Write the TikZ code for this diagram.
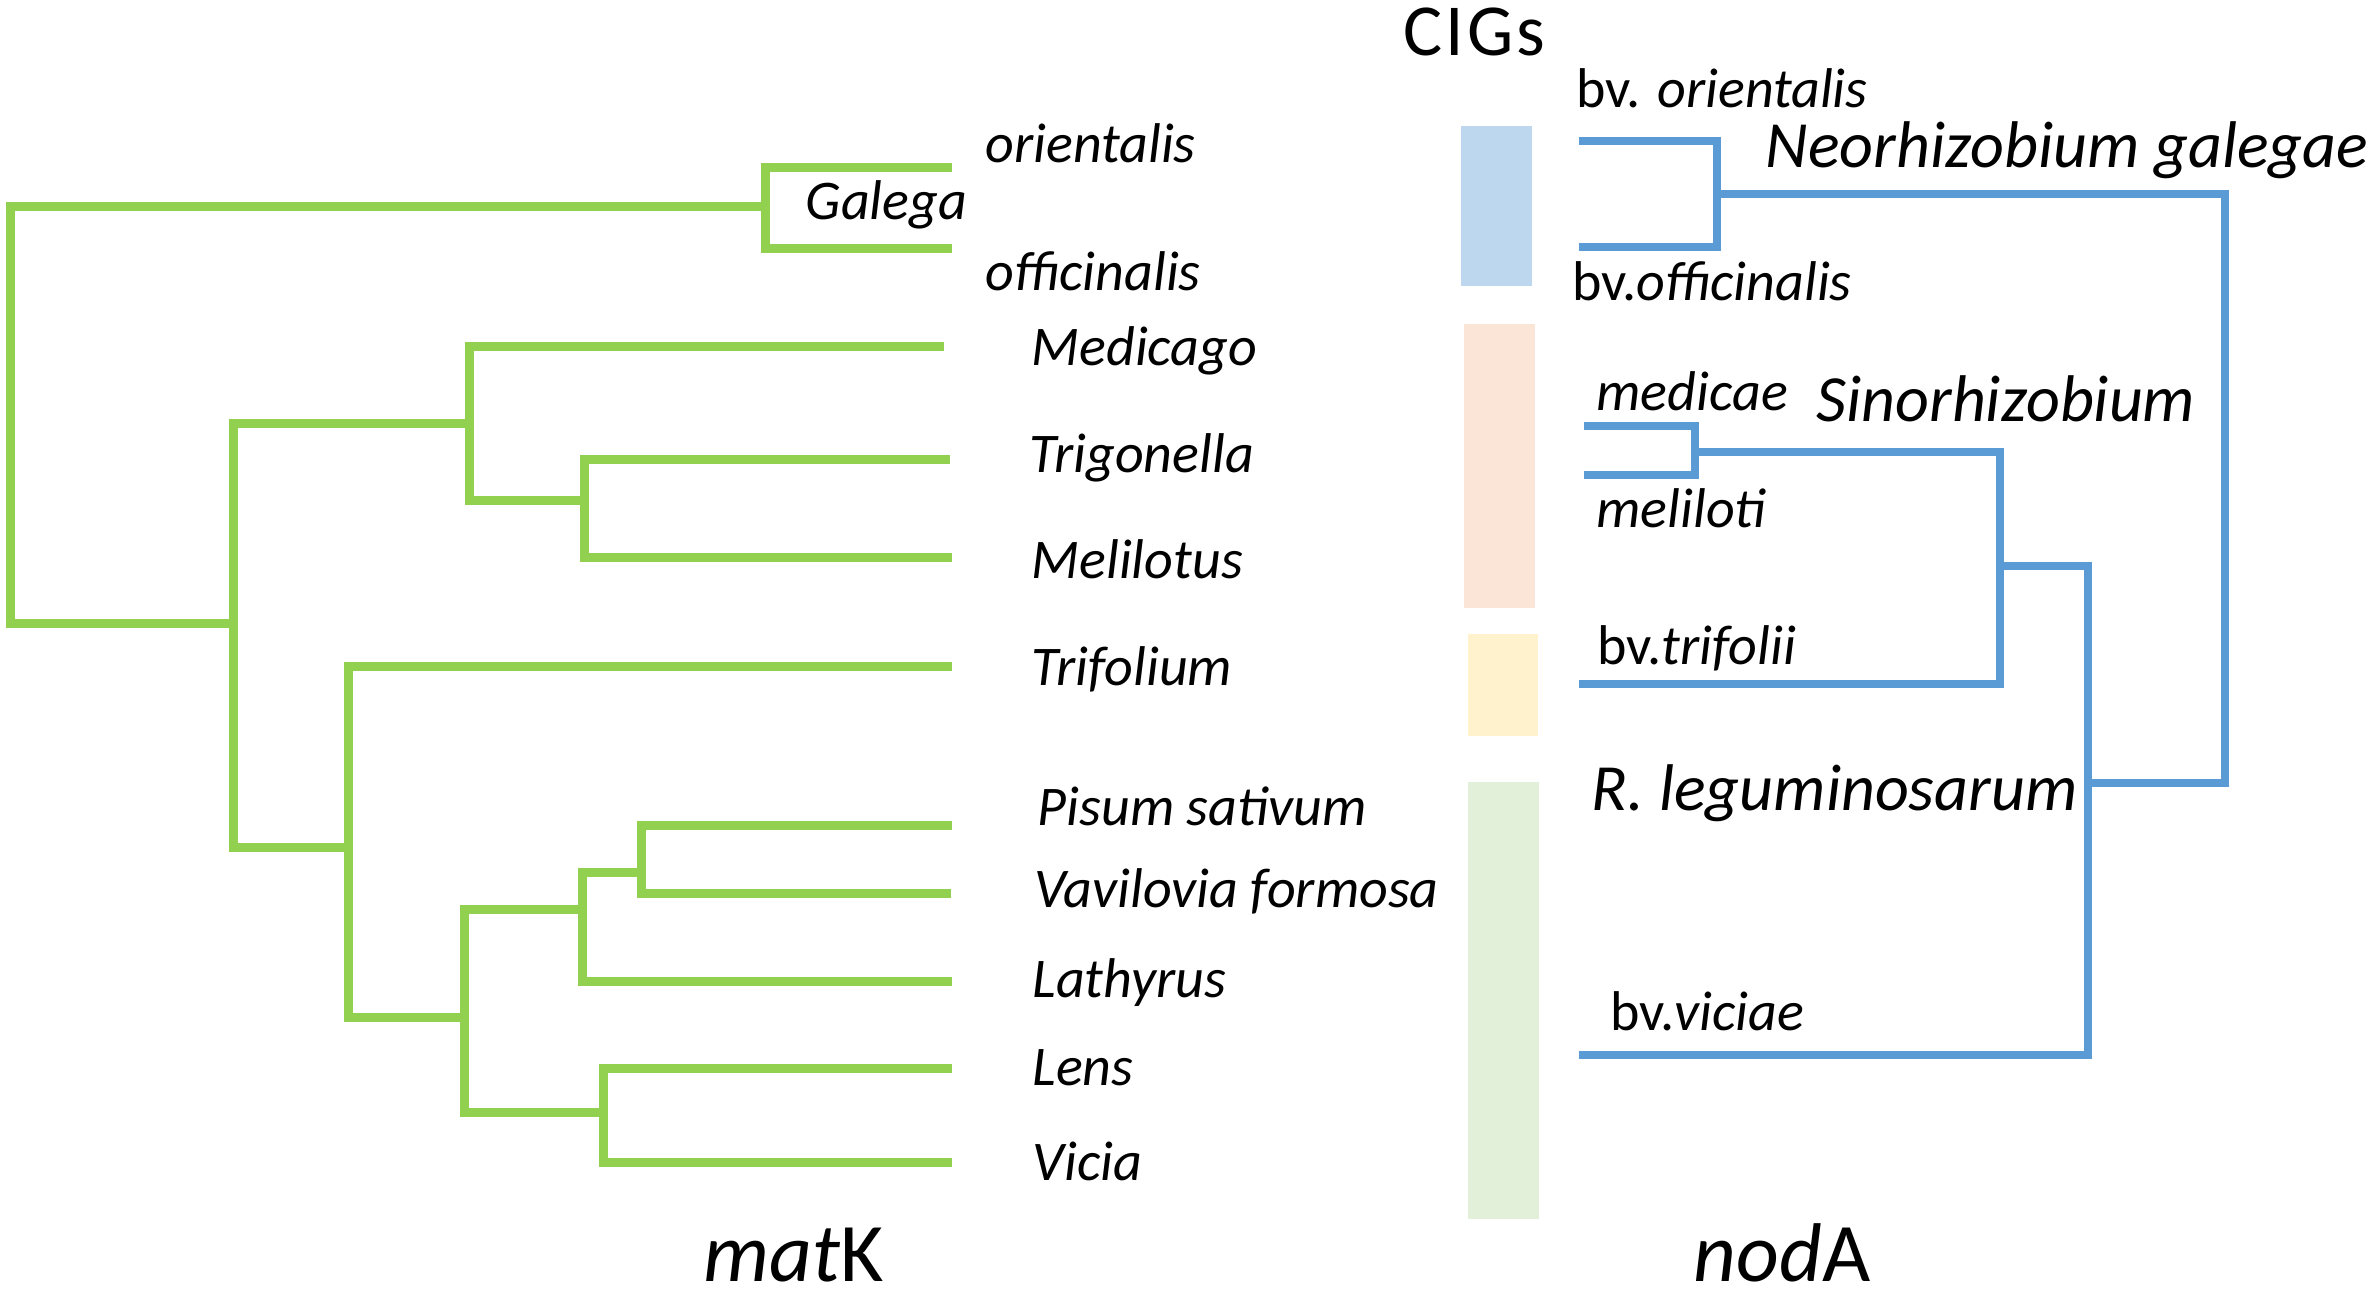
\documentclass[tikz,border=0pt]{standalone}
\usepackage{fontspec}
\setmainfont{Carlito}
\definecolor{treegreen}{HTML}{92D050}
\definecolor{treeblue}{HTML}{5B9BD5}
\definecolor{barblue}{HTML}{BDD7EE}
\definecolor{barpeach}{HTML}{FBE5D6}
\definecolor{baryellow}{HTML}{FFF2CC}
\definecolor{bargreen}{HTML}{E2F0D9}
\begin{document}
\begin{tikzpicture}[x=0.3pt,y=-0.3pt,
  gbr/.style={draw=treegreen,line width=2.7pt,line join=miter},
  bbr/.style={draw=treeblue,line width=2.2pt,line join=miter},
  sp/.style={anchor=base west,inner sep=0pt,font=\fontsize{16.8}{19}\selectfont\itshape},
  spup/.style={anchor=base west,inner sep=0pt,font=\fontsize{16.8}{19}\selectfont},
  biglab/.style={anchor=base west,inner sep=0pt,font=\fontsize{19.8}{22}\selectfont\itshape},
  gene/.style={anchor=base west,inner sep=0pt,font=\fontsize{25}{28}\selectfont},
  cig/.style={anchor=base west,inner sep=0pt,font=\fontsize{22}{26}\selectfont}]
\useasboundingbox (0,0) rectangle (2372,1292);

% colour bars
\fill[barblue]   (1461,126) rectangle (1532,286);
\fill[barpeach]  (1464,324) rectangle (1535,608);
\fill[baryellow] (1468,634) rectangle (1538,736);
\fill[bargreen]  (1468,782) rectangle (1539,1219);

% ---------- green tree (matK) ----------
\coordinate (tOr)  at (952,167);
\coordinate (tOf)  at (952,248);
\coordinate (tMed) at (944,346);
\coordinate (tTri) at (950,459);
\coordinate (tMel) at (952,557);
\coordinate (tTrif) at (952,666);
\coordinate (tPis) at (952,825);
\coordinate (tVav) at (951,893);
\coordinate (tLat) at (952,981);
\coordinate (tLen) at (952,1068);
\coordinate (tVic) at (952,1162);

\coordinate (G1) at (765,206);
\coordinate (R)  at (10,413);
\coordinate (A)  at (233,623);
\coordinate (B)  at (469,423);
\coordinate (D)  at (584,500);
\coordinate (C)  at (348,847);
\coordinate (E)  at (464,1017);
\coordinate (F)  at (582,909);
\coordinate (Ig) at (641,872);
\coordinate (H)  at (603,1112);

\draw[gbr] (tOr) -| (G1) |- (tOf);
\draw[gbr] (G1) -| (R) |- (A);
\draw[gbr] (B) -| (A) |- (C);
\draw[gbr] (tMed) -| (B) |- (D);
\draw[gbr] (tTri) -| (D) |- (tMel);
\draw[gbr] (tTrif) -| (C) |- (E);
\draw[gbr] (F) -| (E) |- (H);
\draw[gbr] (Ig) -| (F) |- (tLat);
\draw[gbr] (tPis) -| (Ig) |- (tVav);
\draw[gbr] (tLen) -| (H) |- (tVic);

% ---------- blue tree (nodA) ----------
\coordinate (bOr)  at (1579,141);
\coordinate (bOf)  at (1579,247);
\coordinate (bMed) at (1584,426);
\coordinate (bMel) at (1584,475);
\coordinate (bTri) at (1579,684);
\coordinate (bVic) at (1579,1055);

\coordinate (N1) at (1717,194);
\coordinate (T)  at (2225,490);
\coordinate (L)  at (2088,783);
\coordinate (S)  at (2000,566);
\coordinate (M)  at (1695,452);

\draw[bbr] (bOr) -| (N1) |- (bOf);
\draw[bbr] (N1) -| (T) |- (L);
\draw[bbr] (S) -| (L) |- (bVic);
\draw[bbr] (M) -| (S) |- (bTri);
\draw[bbr] (bMed) -| (M) |- (bMel);

% ---------- plant labels ----------
\node[sp] (lOr)  at (985,162)  {orientalis};
\node[sp] (lGal) at (805,219)  {Galega};
\node[sp] (lOf)  at (985,290)  {officinalis};
\node[sp] (lMed) at (1031,365) {Medicago};
\node[sp] (lTri) at (1029,472) {Trigonella};
\node[sp] (lMel) at (1031,578) {Melilotus};
\node[sp] (lTrif) at (1031,685) {Trifolium};
\node[sp] (lPis) at (1037,825) {Pisum sativum};
\node[sp] (lVav) at (1034,907) {Vavilovia formosa};
\node[sp] (lLat) at (1032,997) {Lathyrus};
\node[sp] (lLen) at (1032,1085) {Lens};
\node[sp] (lVic) at (1032,1180) {Vicia};

% ---------- rhizobia labels ----------
\node[spup] (rOr) at (1576,107) {bv. \textit{orientalis}};
\node[spup] (rOf) at (1572,300) {bv.\textit{officinalis}};
\node[sp] (rMed) at (1596,410) {medicae};
\node[sp] (rMel) at (1596,527) {meliloti};
\node[spup] (rTri) at (1597,664) {bv.\textit{trifolii}};
\node[spup] (rVic) at (1610,1030) {bv.\textit{viciae}};
\node[biglab] (rNeo) at (1765,167) {Neorhizobium galegae};
\node[biglab] (rSin) at (1816,421) {Sinorhizobium};
\node[biglab] (rLeg) at (1591,810) {R. leguminosarum};

% ---------- headings ----------
\node[cig] (cigs) at (1403,55) {C\kern0.9pt I\kern0.9pt G\kern0.9pt s};
\node[gene] (matk) at (703,1281) {\textit{mat}K};
\node[gene] (noda) at (1693,1281) {\textit{nod}A};
\end{tikzpicture}
\end{document}
